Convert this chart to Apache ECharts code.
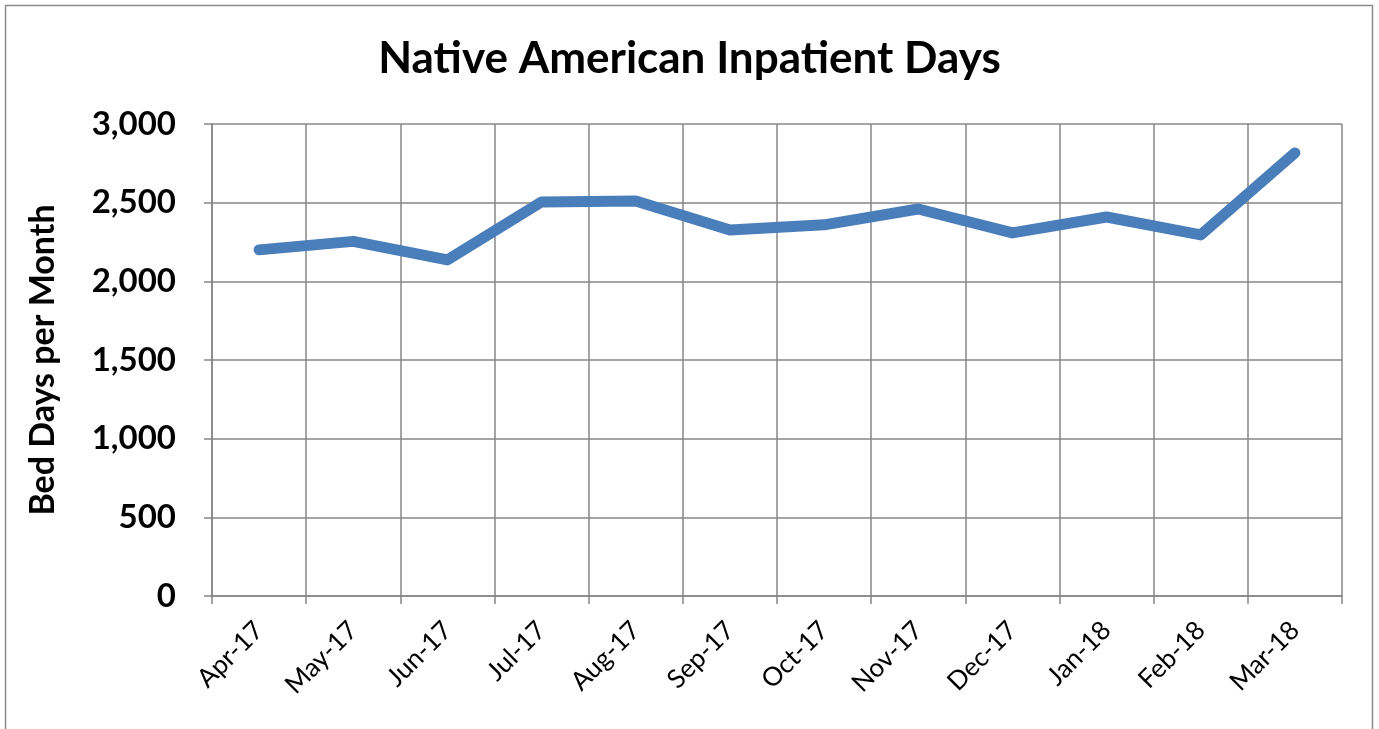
<!DOCTYPE html>
<html><head><meta charset="utf-8">
<script src="https://cdn.jsdelivr.net/npm/echarts@6/dist/echarts.min.js"></script>
<style>html,body{margin:0;padding:0;background:#fff}#c{width:1379px;height:729px}</style>
</head><body><div id="c"></div>
<script>
const categories = ['Apr-17','May-17','Jun-17','Jul-17','Aug-17','Sep-17','Oct-17','Nov-17','Dec-17','Jan-18','Feb-18','Mar-18'];
const bedDays = [2200, 2254, 2136, 2505, 2510, 2327, 2359, 2460, 2308, 2409, 2295, 2816];
const yTicks = [0, 500, 1000, 1500, 2000, 2500, 3000];
const FONT = 'Lato, "Open Sans", sans-serif';
const chart = echarts.init(document.getElementById('c'));
chart.setOption({
  animation: false,
  backgroundColor: '#fff',
  graphic: [{type:'rect', shape:{x:5.5,y:5.5,width:1367,height:740}, style:{fill:'none', stroke:'#8c8c8c', lineWidth:1.5}, silent:true}],
  title: {text:'Native American Inpatient Days', left:'center', top:32,
    textStyle:{fontFamily:FONT, fontWeight:'bold', fontSize:44, color:'#000'}},
  grid: {left:212, right:37, top:124, bottom:133},
  xAxis: {type:'category', data:categories, boundaryGap:true,
    axisLine:{lineStyle:{color:'#878787', width:1.5}},
    axisTick:{show:true, alignWithLabel:false, length:8, lineStyle:{color:'#878787', width:1.5}},
    splitLine:{show:true, lineStyle:{color:'#878787', width:1.5}},
    axisLabel:{rotate:45, fontFamily:FONT, fontSize:26, color:'#000', margin:30, interval:0}},
  yAxis: {type:'value', min:yTicks[0], max:yTicks[yTicks.length-1], interval:500,
    name:'Bed Days per Month', nameLocation:'middle', nameGap:152, nameRotate:90,
    nameTextStyle:{fontFamily:FONT, fontWeight:'bold', fontSize:34, color:'#000'},
    axisLine:{show:true, lineStyle:{color:'#878787', width:1.5}},
    axisTick:{show:true, length:8, lineStyle:{color:'#878787', width:1.5}},
    splitLine:{show:true, lineStyle:{color:'#878787', width:1.5}},
    axisLabel:{fontFamily:FONT, fontWeight:'bold', fontSize:33, color:'#000', margin:36,
      formatter: v => v.toLocaleString('en-US')}},
  series: [{type:'line', data:bedDays, symbol:'none',
    lineStyle:{color:'#4a7ebb', width:11, cap:'round', join:'round'}}]
});
</script></body></html>
